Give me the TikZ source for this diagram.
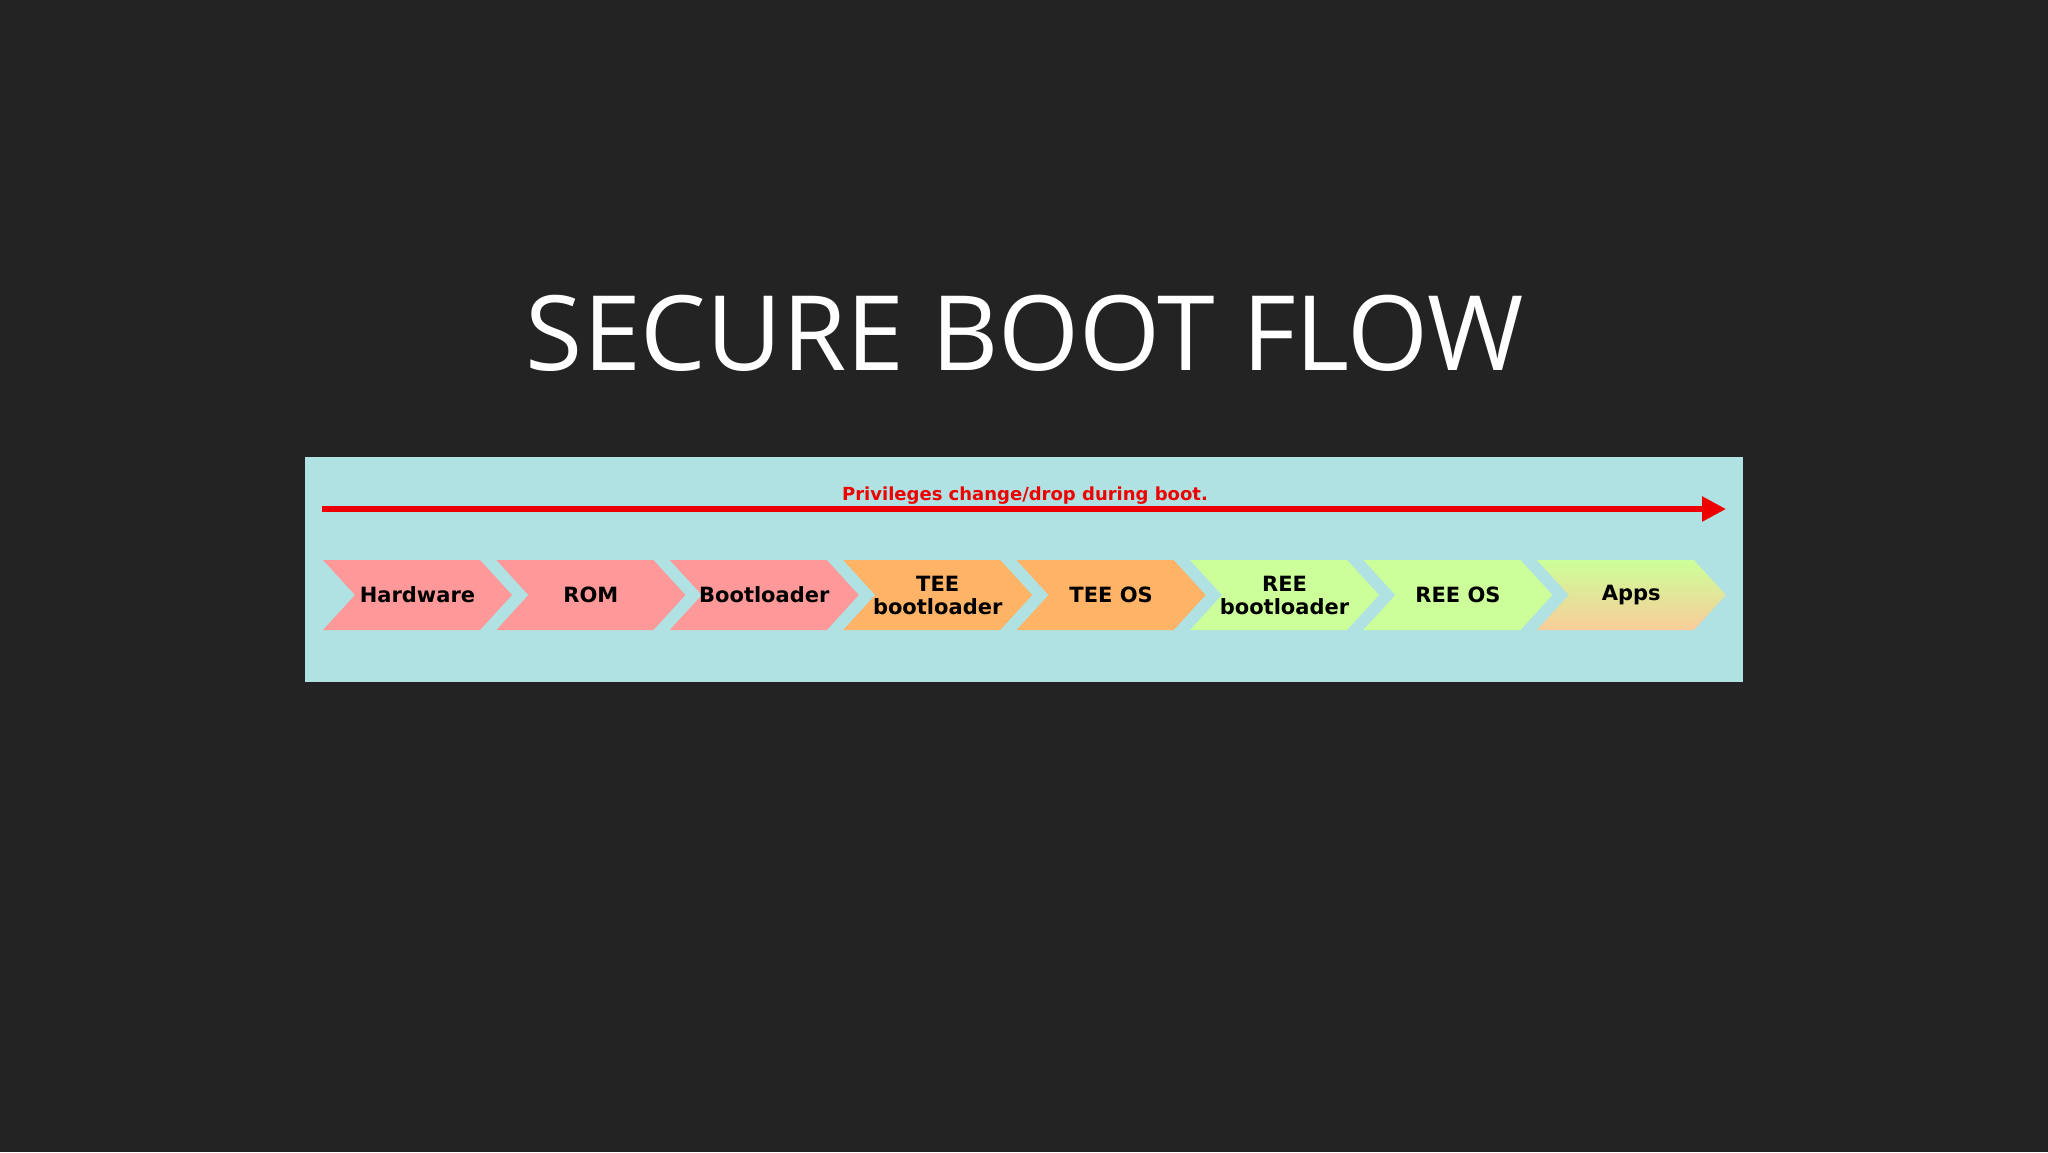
\documentclass[tikz,border=0pt]{standalone}
\usepackage{fontspec}
\setmainfont{DejaVu Sans}
\newfontfamily\titlefont{Open Sans}
\usetikzlibrary{arrows.meta}
\definecolor{bgc}{HTML}{232323}
\definecolor{boxc}{HTML}{B0E2E4}
\definecolor{pinkc}{HTML}{FF9999}
\definecolor{orangec}{HTML}{FFB366}
\definecolor{greenc}{HTML}{CCFF99}
\definecolor{appsb}{HTML}{F9CC99}
\definecolor{redc}{HTML}{EE0000}
\tikzset{
  lbl/.style={font=\fontsize{21}{23}\selectfont\bfseries, align=center, text=black, inner sep=0pt},
}
\newcommand{\chev}[3]{% x, fill options, name
  \path[#2] (#1,560) -- ++(157,0) -- ++(32,35) -- ++(-32,35) -- ++(-157,0) -- ++(32,-35) -- cycle;
  \coordinate (#3) at (#1+94.5,595);
}
\begin{document}
\begin{tikzpicture}[x=1pt,y=-1pt]
\path[fill=bgc,use as bounding box] (0,0) rectangle (2048,1152);
\node[font=\titlefont\fontsize{104}{110}\selectfont, text=white, inner sep=0pt] (title) at (1025,333) {SECURE BOOT FLOW};
\fill[boxc] (305,457) rectangle (1743,682);
\coordinate (as) at (322,509);
\coordinate (ae) at (1726,509);
\draw[redc, line width=5.5pt, -{Triangle[length=24pt,width=24pt]}] (as) -- (ae);
\node[text=redc, font=\fontsize{18}{20}\selectfont\bfseries, inner sep=0pt] (priv) at (1025,496) {Privileges change/drop during boot.};
\chev{323}{fill=pinkc}{c1}
\chev{496.4}{fill=pinkc}{c2}
\chev{669.8}{fill=pinkc}{c3}
\chev{843.2}{fill=orangec}{c4}
\chev{1016.6}{fill=orangec}{c5}
\chev{1190}{fill=greenc}{c6}
\chev{1363.4}{fill=greenc}{c7}
\chev{1536.8}{top color=greenc,bottom color=appsb}{c8}
\node[lbl] (t1) at (c1) {Hardware};
\node[lbl] (t2) at (c2) {ROM};
\node[lbl] (t3) at (c3) {Bootloader};
\node[lbl] (t4) at (c4) {TEE\\bootloader};
\node[lbl] (t5) at (c5) {TEE OS};
\node[lbl] (t6) at (c6) {REE\\bootloader};
\node[lbl] (t7) at (c7) {REE OS};
\node[lbl] (t8) at (c8) {Apps};
\end{tikzpicture}
\end{document}
